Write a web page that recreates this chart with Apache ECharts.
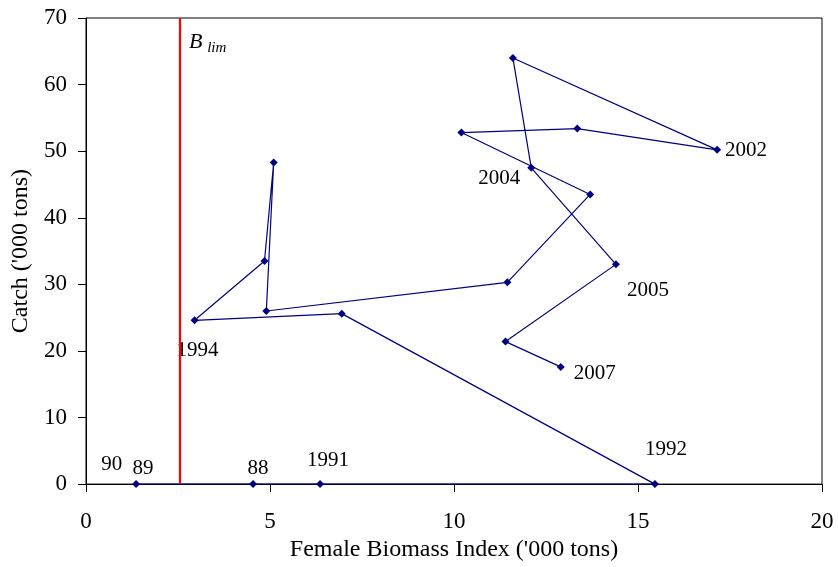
<!DOCTYPE html>
<html><head><meta charset="utf-8">
<script src="https://cdn.jsdelivr.net/npm/echarts@6/dist/echarts.min.js"></script>
<style>html,body{margin:0;padding:0;background:#fff}#c{width:838px;height:567px}</style>
</head><body><div id="c"></div>
<script>
const years = ['88','89','1991','1992','1993','1994','1995','1996','1997','1998','1999','2000','2001','2002','2003','2004','2005','2006','2007'];
const biomass = [4.54,1.36,6.36,15.46,6.95,2.95,4.85,5.10,4.90,11.45,13.70,10.20,13.35,17.15,11.60,12.10,14.40,11.40,12.90];
const catchVals = [0,0,0,0,25.6,24.6,33.5,48.3,26.0,30.3,43.5,52.8,53.4,50.2,64.0,47.5,33.0,21.4,17.6];
const shownLabels = ['88','89','1991','1992','1994','2002','2004','2005','2007'];
const extraLabelYear = '90';
const extraLabelX = 0.7;
const extraLabelY = 0;
const bLim = 2.55;

const labelPos = {
  '88': {position:'top', offset:[5,4]},
  '89': {position:'top', offset:[7,4]},
  '1991': {position:'top', offset:[8,-4]},
  '1992': {position:'top', offset:[11,-15]},
  '1994': {position:'bottom', offset:[3,11]},
  '2002': {position:'right', offset:[-1,1]},
  '2004': {position:'left', offset:[-2,11]},
  '2005': {position:'right', offset:[2,26]},
  '2007': {position:'right', offset:[4,7]}
};
const font = 'Liberation Serif';
const data = years.map((y,i)=>{
  const d = {value:[biomass[i], catchVals[i]], name:y};
  if (shownLabels.includes(y)) {
    d.label = Object.assign({show:true, formatter:y}, labelPos[y]);
  }
  return d;
});
const chart = echarts.init(document.getElementById('c'));
chart.setOption({
  animation:false,
  backgroundColor:'#fff',
  textStyle:{fontFamily:font},
  grid:{left:86,right:16,top:18,bottom:81,show:true,borderColor:'#000',borderWidth:1},
  xAxis:{type:'value',min:0,max:20,interval:5,
    name:"Female Biomass Index ('000 tons)",nameLocation:'middle',nameGap:51,
    nameTextStyle:{fontFamily:font,fontSize:24,color:'#000'},
    axisLine:{onZero:false,lineStyle:{color:'#000',width:1}},
    axisTick:{show:true,length:8,lineStyle:{color:'#000'}},
    axisLabel:{fontFamily:font,fontSize:23,color:'#000',margin:26},
    splitLine:{show:false}},
  yAxis:{type:'value',min:0,max:70,interval:10,
    name:"Catch ('000 tons)",nameLocation:'middle',nameGap:52,
    nameTextStyle:{fontFamily:font,fontSize:24,color:'#000'},
    axisLine:{show:true,lineStyle:{color:'#000',width:1}},
    axisTick:{show:true,length:8,lineStyle:{color:'#000'}},
    axisLabel:{fontFamily:font,fontSize:23,color:'#000',margin:19},
    splitLine:{show:false}},
  series:[
    {type:'line',data:data,symbol:'diamond',symbolSize:8,
      lineStyle:{color:'#000080',width:1.2},itemStyle:{color:'#000080'},
      label:{show:false,fontFamily:font,fontSize:21,color:'#000'},
      z:3,
      markLine:{silent:true,symbol:'none',label:{show:false},
        lineStyle:{color:'#ff0000',width:2.2,type:'solid'},
        data:[{xAxis:bLim}]}
    },
    {type:'scatter',data:[{value:[extraLabelX,extraLabelY],name:extraLabelYear}],
      symbolSize:0,itemStyle:{opacity:1,color:'#000'},
      label:{show:true,position:'top',formatter:extraLabelYear,offset:[0,-4],
        fontFamily:font,fontSize:21,color:'#000'}}
  ],
  graphic:[{type:'text',left:189,top:31,
    style:{text:'{b|B}{s| lim}',rich:{
      b:{fontFamily:font,fontStyle:'italic',fontSize:22,fill:'#000',verticalAlign:'top'},
      s:{fontFamily:font,fontStyle:'italic',fontSize:15,fill:'#000',padding:[10,0,0,1]}}}}]
});
</script></body></html>
